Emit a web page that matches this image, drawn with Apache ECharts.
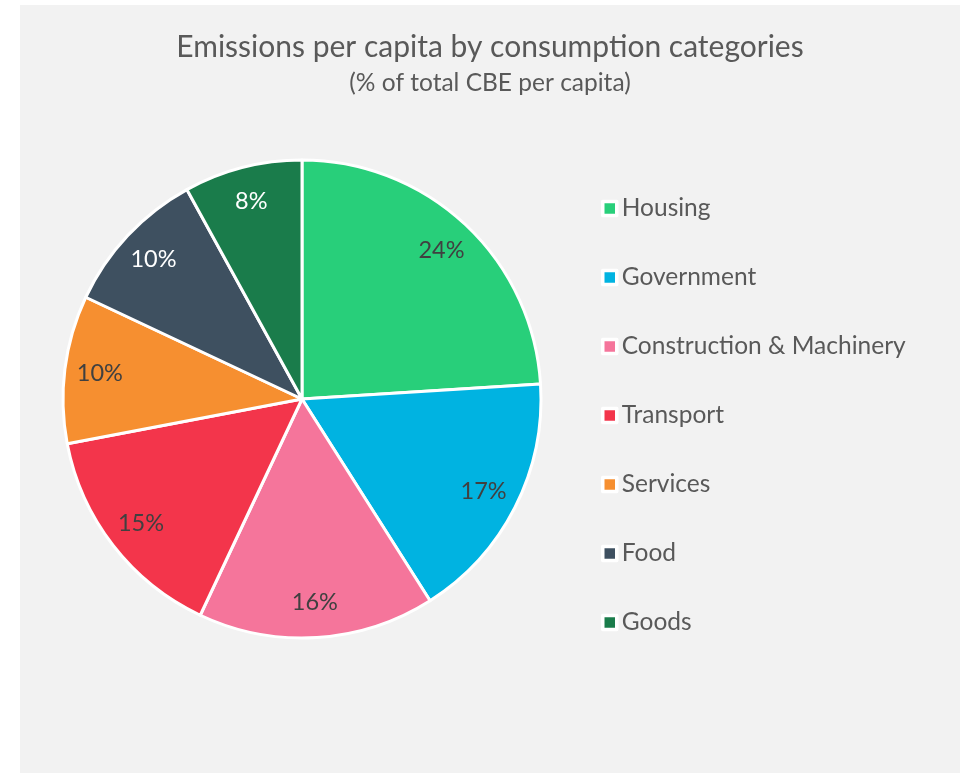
<!DOCTYPE html>
<html>
<head>
<meta charset="utf-8">
<script src="https://cdn.jsdelivr.net/npm/echarts@6/dist/echarts.min.js"></script>
<style>
  html, body { margin: 0; padding: 0; background: #ffffff; }
  #chart { width: 967px; height: 773px; }
</style>
</head>
<body>
<div id="chart"></div>
<script>
// Consumption categories and their share of total CBE per capita (%)
const categories = ['Housing', 'Government', 'Construction & Machinery', 'Transport', 'Services', 'Food', 'Goods'];
const shares = [24, 17, 16, 15, 10, 10, 8];
const sliceColors = ['#28cf7a', '#00b3e1', '#f5759b', '#f3354b', '#f68f30', '#3e5060', '#1a7c4b'];
const labelColors = ['#404040', '#404040', '#404040', '#404040', '#404040', '#ffffff', '#ffffff'];

const FONT = 'Lato, "Open Sans", sans-serif';
const chart = echarts.init(document.getElementById('chart'), null, { renderer: 'canvas' });

const cx = 302, cy = 399, R = 239;

const pieData = categories.map((name, i) => ({
  name,
  value: shares[i],
  itemStyle: { color: sliceColors[i] }
}));

// transparent ring carrying the percentage labels near the outer edge
const labelData = categories.map((name, i) => ({
  name,
  value: shares[i],
  label: { color: labelColors[i] }
}));

chart.setOption({
  animation: false,
  backgroundColor: '#ffffff',
  graphic: [{
    type: 'rect',
    z: -10,
    shape: { x: 20, y: 5, width: 940, height: 768 },
    style: { fill: '#f2f2f2' }
  }],
  title: {
    text: 'Emissions per capita by consumption categories',
    subtext: '(% of total CBE per capita)',
    left: 485,
    textAlign: 'center',
    top: 27,
    itemGap: 9,
    textStyle: { fontFamily: FONT, fontSize: 30, fontWeight: 'normal', color: '#595959' },
    subtextStyle: { fontFamily: FONT, fontSize: 24.5, color: '#595959' }
  },
  legend: {
    orient: 'vertical',
    left: 596,
    top: 191,
    itemWidth: 14,
    itemHeight: 14,
    itemGap: 44,
    icon: 'rect',
    itemStyle: { borderColor: '#ffffff', borderWidth: 3.5 },
    textStyle: { fontFamily: FONT, fontSize: 24.5, color: '#595959', padding: [0, 0, 0, 0] },
    data: categories
  },
  series: [
    {
      name: 'CBE share',
      type: 'pie',
      center: [cx, cy],
      radius: [0, R],
      startAngle: 90,
      clockwise: true,
      label: { show: false },
      labelLine: { show: false },
      itemStyle: { borderColor: '#ffffff', borderWidth: 3 },
      emphasis: { disabled: true },
      data: pieData
    },
    {
      name: 'CBE share labels',
      type: 'pie',
      center: [cx, cy],
      radius: [R * 0.68, R],
      startAngle: 90,
      clockwise: true,
      silent: true,
      legendHoverLink: false,
      itemStyle: { color: 'rgba(0,0,0,0)', borderWidth: 0 },
      label: {
        show: true,
        position: 'inside',
        formatter: '{c}%',
        fontFamily: FONT,
        fontSize: 23.5
      },
      labelLine: { show: false },
      emphasis: { disabled: true },
      data: labelData
    }
  ]
});
</script>
</body>
</html>
